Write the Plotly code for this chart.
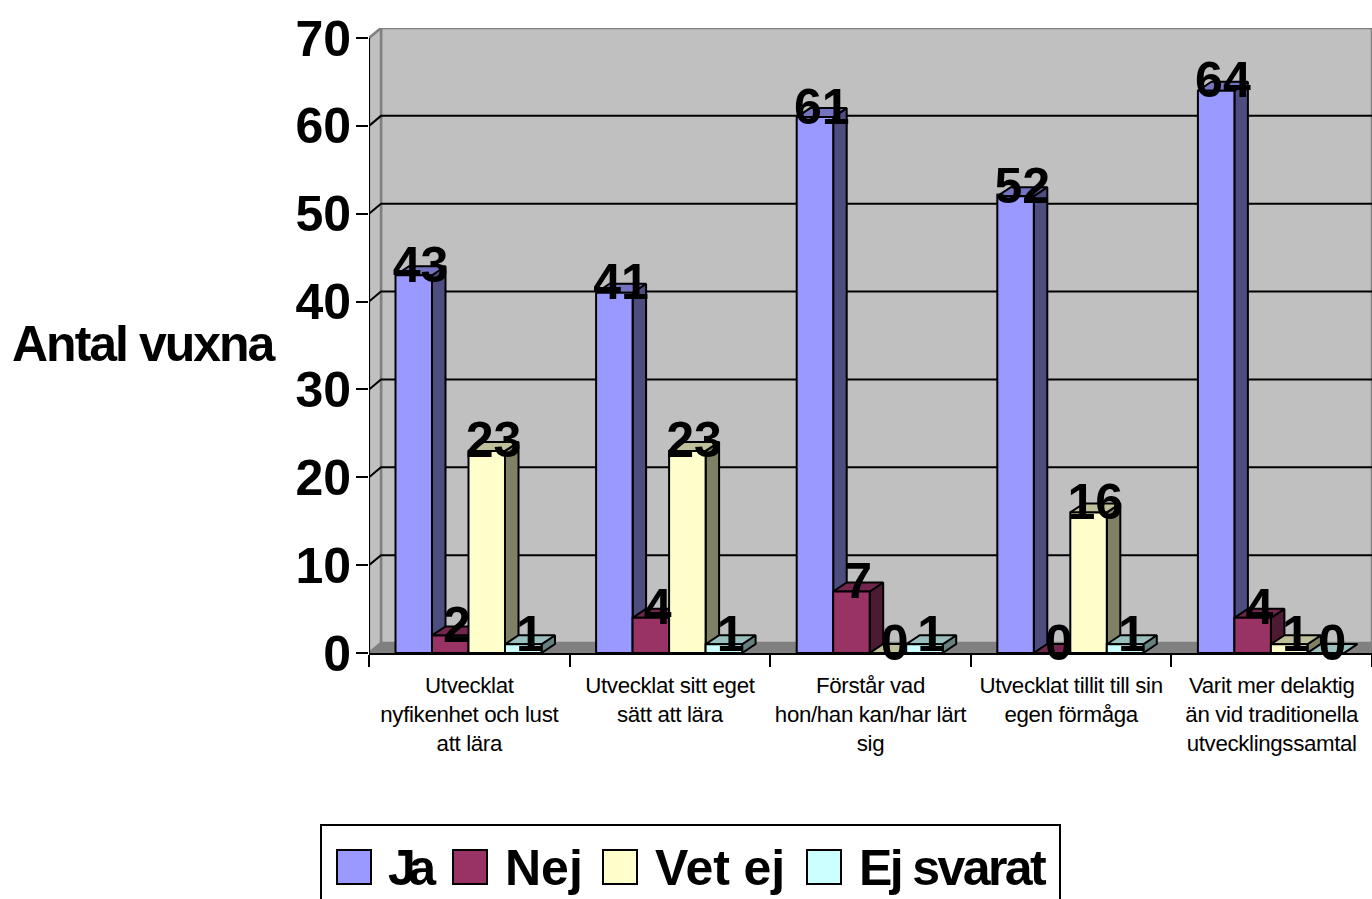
import plotly.graph_objects as go

categories = [
    "Utvecklat<br>nyfikenhet och lust<br>att lära",
    "Utvecklat sitt eget<br>sätt att lära",
    "Förstår vad<br>hon/han kan/har lärt<br>sig",
    "Utvecklat tillit till sin<br>egen förmåga",
    "Varit mer delaktig<br>än vid traditionella<br>utvecklingssamtal",
]
ja = [43, 41, 61, 52, 64]
nej = [2, 4, 7, 0, 4]
vet_ej = [23, 23, 0, 16, 1]
ej_svarat = [1, 1, 1, 1, 0]
y_ticks = [0, 10, 20, 30, 40, 50, 60, 70]

series = [
    ("Ja", ja, "#9999FF", "#7373BF", "#4D4D80"),
    ("Nej", nej, "#993366", "#73264D", "#4D1A33"),
    ("Vet ej", vet_ej, "#FFFFCC", "#BFBF99", "#808066"),
    ("Ej svarat", ej_svarat, "#CCFFFF", "#99BFBF", "#668080"),
]

# plot-area geometry in page pixels
PL, PR, PT, PB = 369, 1372, 38, 653
CAT_PX = (PR - PL) / 5
VAL_PX = (PB - PT) / 70
WALL_DX, WALL_DY = 12 / CAT_PX, 10 / VAL_PX
BAR_DX, BAR_DY = 13.5 / CAT_PX, 9 / VAL_PX
GROUP_OFF, BAR_W = 26.5 / CAT_PX, 36.5 / CAT_PX
TOP = 70 + WALL_DY
FONT = "Liberation Sans, Arial, sans-serif"


def xp(px):
    return (px - PL) / (PR - PL)


def yp(py):
    return (PB - py) / (PB - (PT - 10))


def tight(label, spacing):
    lines = label.split("<br>")
    return "<br>".join(f'<span style="letter-spacing:{spacing}px">{s}</span>' for s in lines)


fig = go.Figure()


def poly(xs, ys, fill, line, width=2, axes=("x", "y")):
    fig.add_trace(go.Scatter(
        x=xs, y=ys, mode="lines", fill="toself", fillcolor=fill,
        line=dict(color=line, width=width), showlegend=False,
        hoverinfo="skip", cliponaxis=False, xaxis=axes[0], yaxis=axes[1],
    ))


# walls and floor
poly([WALL_DX, 5, 5, WALL_DX, WALL_DX], [WALL_DY, WALL_DY, TOP, TOP, WALL_DY], "#C0C0C0", "#808080", 2.5)
poly([0, WALL_DX, WALL_DX, 0, 0], [0, WALL_DY, TOP, 70, 0], "#C0C0C0", "#808080", 2.5)
poly([0, WALL_DX, 5, 5, 0], [0, WALL_DY, WALL_DY, 0, 0], "#808080", "#808080", 1)

# gridlines on side and back walls
gx, gy = [], []
for v in y_ticks[1:-1]:
    gx += [0, WALL_DX, 5, None]
    gy += [v, v + WALL_DY, v + WALL_DY, None]
fig.add_trace(go.Scatter(x=gx, y=gy, mode="lines", line=dict(color="black", width=2),
                         showlegend=False, hoverinfo="skip", cliponaxis=False))
# value-axis line, stopping at the top tick
fig.add_trace(go.Scatter(x=[0, 0], y=[0, 70], mode="lines", line=dict(color="black", width=2),
                         showlegend=False, hoverinfo="skip", cliponaxis=False))

# side and top faces, left to right
for c in range(5):
    for k, (name, vals, col, topc, sidec) in enumerate(series):
        v = vals[c]
        l = c + GROUP_OFF + k * BAR_W
        r = l + BAR_W
        poly([r, r + BAR_DX, r + BAR_DX, r, r], [0, BAR_DY, v + BAR_DY, v, 0], sidec, "black", 2, ("x2", "y2"))
        poly([l, l + BAR_DX, r + BAR_DX, r, l], [v, v + BAR_DY, v + BAR_DY, v, v], topc, "black", 2, ("x2", "y2"))

# front faces
for k, (name, vals, col, topc, sidec) in enumerate(series):
    fig.add_trace(go.Bar(
        name=name, x=[c + GROUP_OFF + (k + 0.5) * BAR_W for c in range(5)], y=vals,
        width=BAR_W, marker=dict(color=col, line=dict(color="black", width=2)),
        showlegend=False, cliponaxis=False, xaxis="x3", yaxis="y3",
    ))

# value labels
for k, (name, vals, col, topc, sidec) in enumerate(series):
    fig.add_trace(go.Scatter(
        x=[c + GROUP_OFF + (k + 0.5) * BAR_W + BAR_DX / 2 for c in range(5)],
        y=[v + BAR_DY - 3 / VAL_PX for v in vals], mode="text", text=[str(v) for v in vals],
        textposition="middle center",
        textfont=dict(family=FONT, size=50, color="black", weight="bold"),
        showlegend=False, hoverinfo="skip", cliponaxis=False, xaxis="x3", yaxis="y3",
    ))

# legend drawn to scale, its box running past the page bottom as in the source
shapes = [dict(type="rect", xref="paper", yref="paper", x0=xp(321), x1=xp(1060), y0=yp(960), y1=yp(825),
               fillcolor="white", line=dict(color="black", width=2), layer="above")]
annotations = [dict(text='<span style="letter-spacing:-2px">Antal vuxna</span>', xref="paper", yref="paper",
                    x=xp(144), y=yp(344), xanchor="center", yanchor="middle", showarrow=False,
                    font=dict(family=FONT, size=50, color="black", weight="bold"))]
legend_pos = [(337, 386, -7.5), (453, 503, 0), (603, 653, -0.1), (807, 857, -2.6)]
for (name, vals, col, topc, sidec), (sx, tx, sp) in zip(series, legend_pos):
    shapes.append(dict(type="rect", xref="paper", yref="paper", x0=xp(sx), x1=xp(sx + 34), y0=yp(884), y1=yp(850),
                       fillcolor=col, line=dict(color="black", width=2), layer="above"))
    annotations.append(dict(text=f'<span style="letter-spacing:{sp}px">{name}</span>', xref="paper", yref="paper",
                            x=xp(tx), y=yp(868), xanchor="left", yanchor="middle", showarrow=False,
                            font=dict(family=FONT, size=50, color="black", weight="bold")))

fig.update_layout(
    width=1372, height=899, margin=dict(l=PL, r=1372 - PR, t=PT - 10, b=899 - PB, pad=0),
    paper_bgcolor="white", plot_bgcolor="rgba(0,0,0,0)", barmode="overlay", showlegend=False,
    font=dict(family=FONT), shapes=shapes, annotations=annotations,
    xaxis=dict(range=[0, 5], tickvals=[0, 1, 2, 3, 4, 5], showticklabels=False, ticks="outside", ticklen=12,
               tickwidth=2, tickcolor="black", showline=True, linecolor="black", linewidth=2, showgrid=False,
               zeroline=False),
    yaxis=dict(range=[0, TOP], tickvals=y_ticks, ticks="outside", ticklen=12, tickwidth=2, tickcolor="black",
               showline=False, showgrid=False, zeroline=False, ticklabelstandoff=-5,
               tickfont=dict(family=FONT, size=50, color="black", weight="bold")),
    xaxis2=dict(range=[0, 5], overlaying="x", visible=False),
    yaxis2=dict(range=[0, TOP], overlaying="y", visible=False),
    xaxis3=dict(range=[0, 5], overlaying="x", tickvals=[c + 0.5 for c in range(5)],
                ticktext=[tight(s, -0.35) for s in categories],
                tickangle=0, ticks="", showline=False, showgrid=False, zeroline=False,
                ticklabelstandoff=17, tickfont=dict(family=FONT, size=22.3, color="black")),
    yaxis3=dict(range=[0, TOP], overlaying="y", visible=False),
)
fig.write_html("out.html", config=dict(displayModeBar=False), post_script="document.body.style.margin='0';")
